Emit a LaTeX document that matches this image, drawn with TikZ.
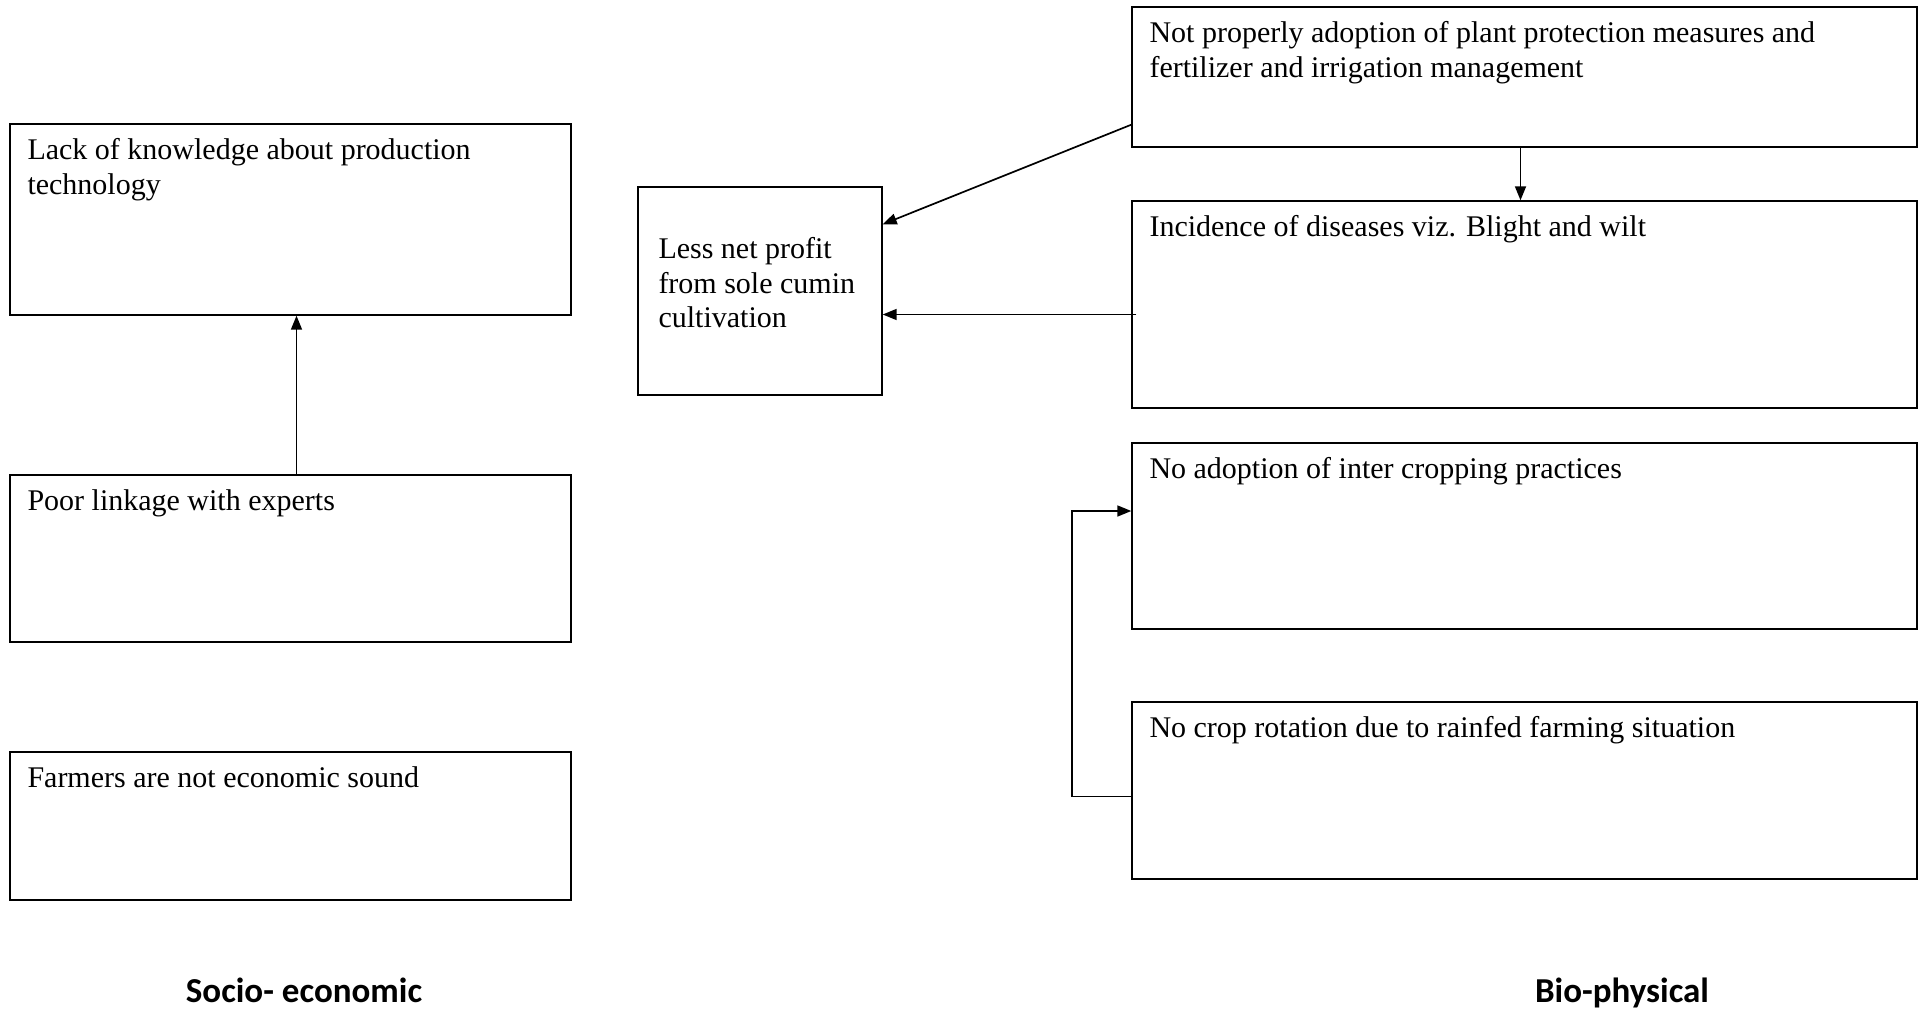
\documentclass[tikz,border=0pt]{standalone}
\usepackage{fontspec}
\setmainfont{Liberation Serif}
\newfontfamily\headfont{Carlito}
\usetikzlibrary{arrows.meta}
\tikzset{
  box/.style={draw, line width=1.4pt, rectangle, inner sep=0pt},
  boxtext/.style={anchor=north west, inner sep=0pt, align=left,
    font=\fontsize{30}{34.5}\selectfont},
  head/.style={anchor=base, inner sep=0pt, font=\headfont\bfseries\fontsize{35}{40}\selectfont},
  link/.style={line width=1.7pt, -{Triangle[length=14pt,width=11pt]}}
}
\newcommand{\boxlabel}[3]{% name, box, text
  \node[boxtext] (#1) at ([xshift=18pt,yshift=-12pt]#2.north west) {\strut #3};}
\begin{document}
\begin{tikzpicture}[x=1pt,y=-1pt]
  \fill[white] (0,0) rectangle (1931,1014);
  \useasboundingbox (0,0) rectangle (1931,1014);

  % socio-economic column
  \node[box, minimum width=561pt, minimum height=191pt] (know) at (290.5,219.5) {};
  \node[box, minimum width=561pt, minimum height=167pt] (link) at (290.5,558.5) {};
  \node[box, minimum width=561pt, minimum height=148pt] (econ) at (290.5,826) {};
  \boxlabel{know-t}{know}{Lack of knowledge about production\\technology}
  \boxlabel{link-t}{link}{Poor linkage with experts}
  \boxlabel{econ-t}{econ}{Farmers are not economic sound}

  % central outcome
  \node[box, minimum width=244pt, minimum height=208pt] (profit) at (760,291) {};
  \node[boxtext] (profit-t) at ([xshift=21pt,yshift=-48pt]profit.north west)
    {\strut Less net profit\\from sole cumin\\cultivation};

  % bio-physical column
  \node[box, minimum width=785pt, minimum height=140pt] (plant) at (1524.5,77) {};
  \node[box, minimum width=785pt, minimum height=207pt] (dis) at (1524.5,304.5) {};
  \node[box, minimum width=785pt, minimum height=186pt] (inter) at (1524.5,536) {};
  \node[box, minimum width=785pt, minimum height=177pt] (rot) at (1524.5,790.5) {};
  \boxlabel{plant-t}{plant}{Not properly adoption of plant protection measures and\\fertilizer and irrigation management}
  \boxlabel{dis-t}{dis}{Incidence of diseases viz. Blight and wilt}
  \boxlabel{inter-t}{inter}{No adoption of inter cropping practices}
  \boxlabel{rot-t}{rot}{No crop rotation due to rainfed farming situation}

  % connectors
  \coordinate (dis-out) at ([xshift=5pt,yshift=-10pt]dis.west);
  \draw[link] ([xshift=6pt]link.north) -- ([xshift=6pt]know.south);
  \draw[link] ([yshift=23pt]plant.south west) -- ([yshift=-38pt]profit.north east);
  \draw[link] ([xshift=-4pt]plant.south) -- ([xshift=-4pt]dis.north);
  \draw[link] (dis-out) -- (profit.east |- dis-out);
  \draw[link] ([yshift=-6pt]rot.west) -- ++(-59pt,0) |- ([yshift=25pt]inter.west);

  % column headings
  \node[head] (socio) at (304,1002) {Socio- economic};
  \node[head] (bio) at (1622,1002) {Bio-physical};
\end{tikzpicture}
\end{document}
